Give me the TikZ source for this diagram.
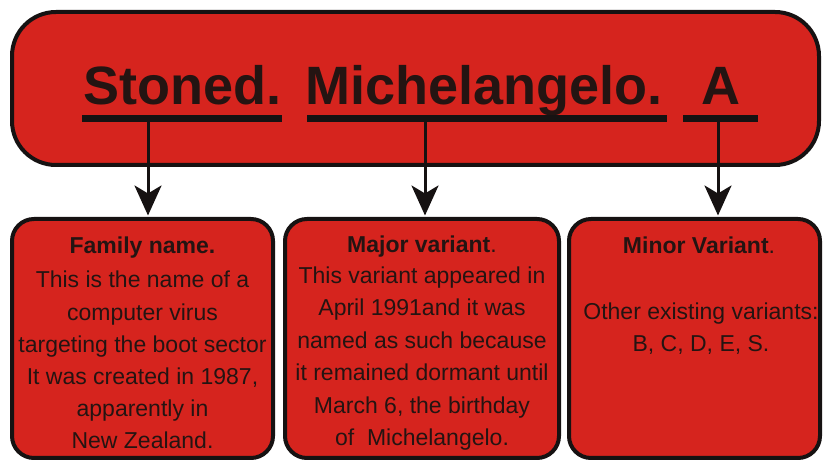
\documentclass[tikz,border=0pt]{standalone}
\usepackage{fontspec}
\setmainfont{Liberation Sans}
\usetikzlibrary{arrows.meta}
\definecolor{boxred}{RGB}{214,36,30}
\definecolor{inkdark}{RGB}{36,20,18}
\definecolor{edgeblack}{RGB}{22,18,18}
\tikzset{
  bigbox/.style={draw=edgeblack, fill=boxred, line width=4pt, rounded corners=44pt, inner sep=0pt},
  smallbox/.style={draw=edgeblack, fill=boxred, line width=4pt, rounded corners=22pt, inner sep=0pt},
  ubar/.style={fill=edgeblack, inner sep=0pt, minimum height=7pt},
  titletxt/.style={anchor=base west, inner sep=0pt, text=inkdark, font=\fontsize{54}{60}\selectfont\bfseries},
  bodytxt/.style={anchor=base, inner sep=0pt, text=inkdark, font=\fontsize{23}{28}\selectfont},
  headtxt/.style={anchor=base, inner sep=0pt, text=inkdark, font=\fontsize{23}{28}\selectfont},
  conn/.style={draw=edgeblack, line width=3pt, -{Stealth[length=30pt, width=27pt, inset=8pt]}, shorten >=1.5pt}
}
\begin{document}
\begin{tikzpicture}[x=1pt, y=-1pt]
\useasboundingbox (0,0) rectangle (823,462);
% top box
\node[bigbox, minimum width=807pt, minimum height=153pt] (top) at (415.5,88.5) {};
% bottom boxes
\node[smallbox, minimum width=261pt, minimum height=239pt] (b1) at (142.5,338.5) {};
\node[smallbox, minimum width=274pt, minimum height=239pt] (b2) at (422,338.5) {};
\node[smallbox, minimum width=251pt, minimum height=239pt] (b3) at (694.5,338.5) {};
% title words
\node[titletxt] (w1) at (83,105) {Stoned.};
\node[titletxt] (w2) at (305,105) {Michelangelo.};
\node[titletxt] (w3) at (701,105) {A};
% underlines
\node[ubar, minimum width=200pt] (u1) at (182,118.5) {};
\node[ubar, minimum width=360pt] (u2) at (487,118.5) {};
\node[ubar, minimum width=75pt] (u3) at (720.5,118.5) {};
% connectors
\coordinate (s1) at (148,122);
\coordinate (s2) at (425,122);
\coordinate (s3) at (718,122);
\draw[conn] (s1) -- (s1 |- b1.north);
\draw[conn] (s2) -- (s2 |- b2.north);
\draw[conn] (s3) -- (s3 |- b3.north);
% box 1 text
\node[headtxt] (h1) at (142.5,254) {\bfseries Family name.};
\foreach \txt [count=\i] in {{This is the name of a},{computer virus},{targeting the boot sector},{It was created in 1987,},{apparently in},{New Zealand.}}
  \node[bodytxt] (a\i) at (142.5,{288+(\i-1)*32.2}) {\txt};
% box 2 text
\node[headtxt] (h2) at (422,253) {\textbf{Major variant}.};
\foreach \txt [count=\i] in {{This variant appeared in},{April 1991and it was},{named as such because},{it remained dormant until},{March 6, the birthday},{of\ \ Michelangelo.}}
  \node[bodytxt] (m\i) at (422,{283.5+(\i-1)*32.4}) {\txt};
% box 3 text
\node[headtxt] (h3) at (699,254) {\textbf{Minor Variant}.};
\node[bodytxt] (c1) at (701,320) {Other existing variants:};
\node[bodytxt] (c2) at (701,352) {B, C, D, E, S.};
\end{tikzpicture}
\end{document}
